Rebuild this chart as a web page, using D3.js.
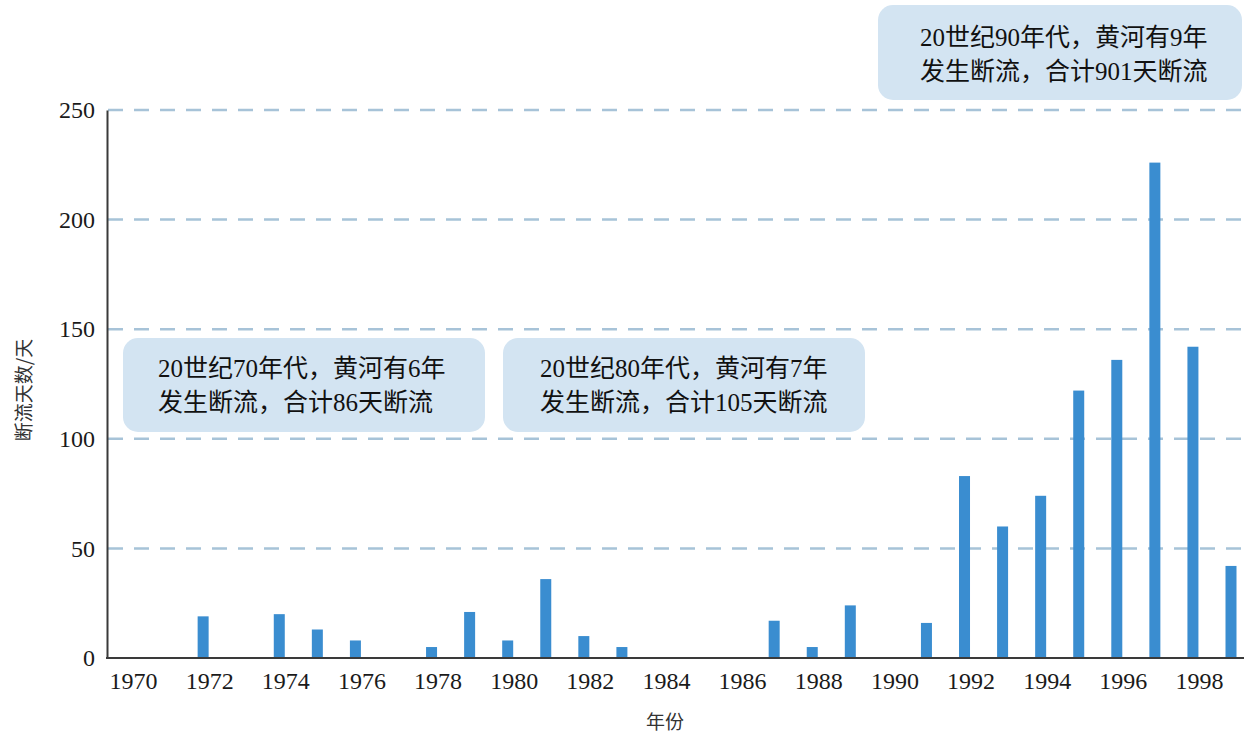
<!DOCTYPE html>
<html>
<head>
<meta charset="utf-8">
<script src="https://cdn.jsdelivr.net/npm/d3@7"></script>
<style>
  body { margin: 0; background: #fff; }
  svg { display: block; }
</style>
</head>
<body>
<div id="chart"></div>
<script>
// 黄河断流天数（1970-1999）
const years = [1972, 1974, 1975, 1976, 1978, 1979, 1980, 1981, 1982, 1983,
               1987, 1988, 1989, 1991, 1992, 1993, 1994, 1995, 1996, 1997, 1998, 1999];
const dryDays = [19, 20, 13, 8, 5, 21, 8, 36, 10, 5,
                 17, 5, 24, 16, 83, 60, 74, 122, 136, 226, 142, 42];
const tickYears = [1970, 1972, 1974, 1976, 1978, 1980, 1982, 1984, 1986, 1988,
                   1990, 1992, 1994, 1996, 1998];
const yTicks = [0, 50, 100, 150, 200, 250];
const note70s = ['20世纪70年代，黄河有6年', '发生断流，合计86天断流'];
const note80s = ['20世纪80年代，黄河有7年', '发生断流，合计105天断流'];
const note90s = ['20世纪90年代，黄河有9年', '发生断流，合计901天断流'];

const W = 1244, H = 733;
const serif = '"Liberation Serif", "Noto Sans CJK SC", serif';
const sans = '"Noto Sans CJK SC", sans-serif';

const svg = d3.select('#chart')
  .append('svg')
  .attr('width', W)
  .attr('height', H);

const x = d3.scaleLinear()
  .domain([1970, 1999])
  .range([127, 1231]);

const y = d3.scaleLinear()
  .domain([0, 250])
  .range([658, 110]);

// dashed gridlines
svg.append('g')
  .selectAll('line')
  .data(yTicks.filter(d => d > 0))
  .enter()
  .append('line')
  .attr('x1', 108)
  .attr('x2', W)
  .attr('y1', d => y(d))
  .attr('y2', d => y(d))
  .attr('stroke', '#a7c3d8')
  .attr('stroke-width', 2.5)
  .attr('stroke-dasharray', '15 11');

// bars
const barW = 11;
svg.append('g')
  .selectAll('rect')
  .data(years)
  .enter()
  .append('rect')
  .attr('x', d => x(d) - barW / 2)
  .attr('width', barW)
  .attr('y', (d, i) => y(dryDays[i]))
  .attr('height', (d, i) => y(0) - y(dryDays[i]))
  .attr('fill', '#3a8dd0');

// axes
const yAxis = svg.append('g')
  .attr('transform', 'translate(107,0)')
  .call(d3.axisLeft(y).tickValues(yTicks).tickSize(0).tickPadding(12));
yAxis.select('.domain').attr('stroke', '#3a3a3a').attr('stroke-width', 2);
yAxis.selectAll('text')
  .style('font-family', serif)
  .style('font-size', '24px')
  .attr('fill', '#1a1a1a');

const xAxis = svg.append('g')
  .attr('transform', `translate(0,${y(0)})`)
  .call(d3.axisBottom(x).tickValues(tickYears).tickFormat(d3.format('d')).tickSize(0).tickPadding(14));
xAxis.select('.domain').attr('d', `M106,0H${W}`).attr('stroke', '#3a3a3a').attr('stroke-width', 2);
xAxis.selectAll('text')
  .attr('dx', 6)
  .style('font-family', serif)
  .style('font-size', '24px')
  .attr('fill', '#1a1a1a');

// axis titles
svg.append('text')
  .attr('transform', 'translate(31,390) rotate(-90)')
  .attr('text-anchor', 'middle')
  .style('font-family', sans)
  .style('font-size', '19px')
  .attr('fill', '#333')
  .text('断流天数/天');

svg.append('text')
  .attr('x', 665)
  .attr('y', 729)
  .attr('text-anchor', 'middle')
  .style('font-family', sans)
  .style('font-size', '19px')
  .attr('fill', '#333')
  .text('年份');

// annotation boxes
function note(lines, bx, by, bw, bh, tx, ty) {
  const g = svg.append('g');
  g.append('rect')
    .attr('x', bx).attr('y', by)
    .attr('width', bw).attr('height', bh)
    .attr('rx', 15)
    .attr('fill', '#d3e4f2');
  g.selectAll('text')
    .data(lines)
    .enter()
    .append('text')
    .attr('x', tx)
    .attr('y', (d, i) => ty + i * 34)
    .style('font-family', serif)
    .style('font-size', '25px')
    .attr('fill', '#111')
    .text(d => d);
}

note(note70s, 123, 338, 362, 94, 158, 377);
note(note80s, 503, 338, 362, 94, 540, 377);
note(note90s, 878, 5, 364, 95, 920, 46);
</script>
</body>
</html>
